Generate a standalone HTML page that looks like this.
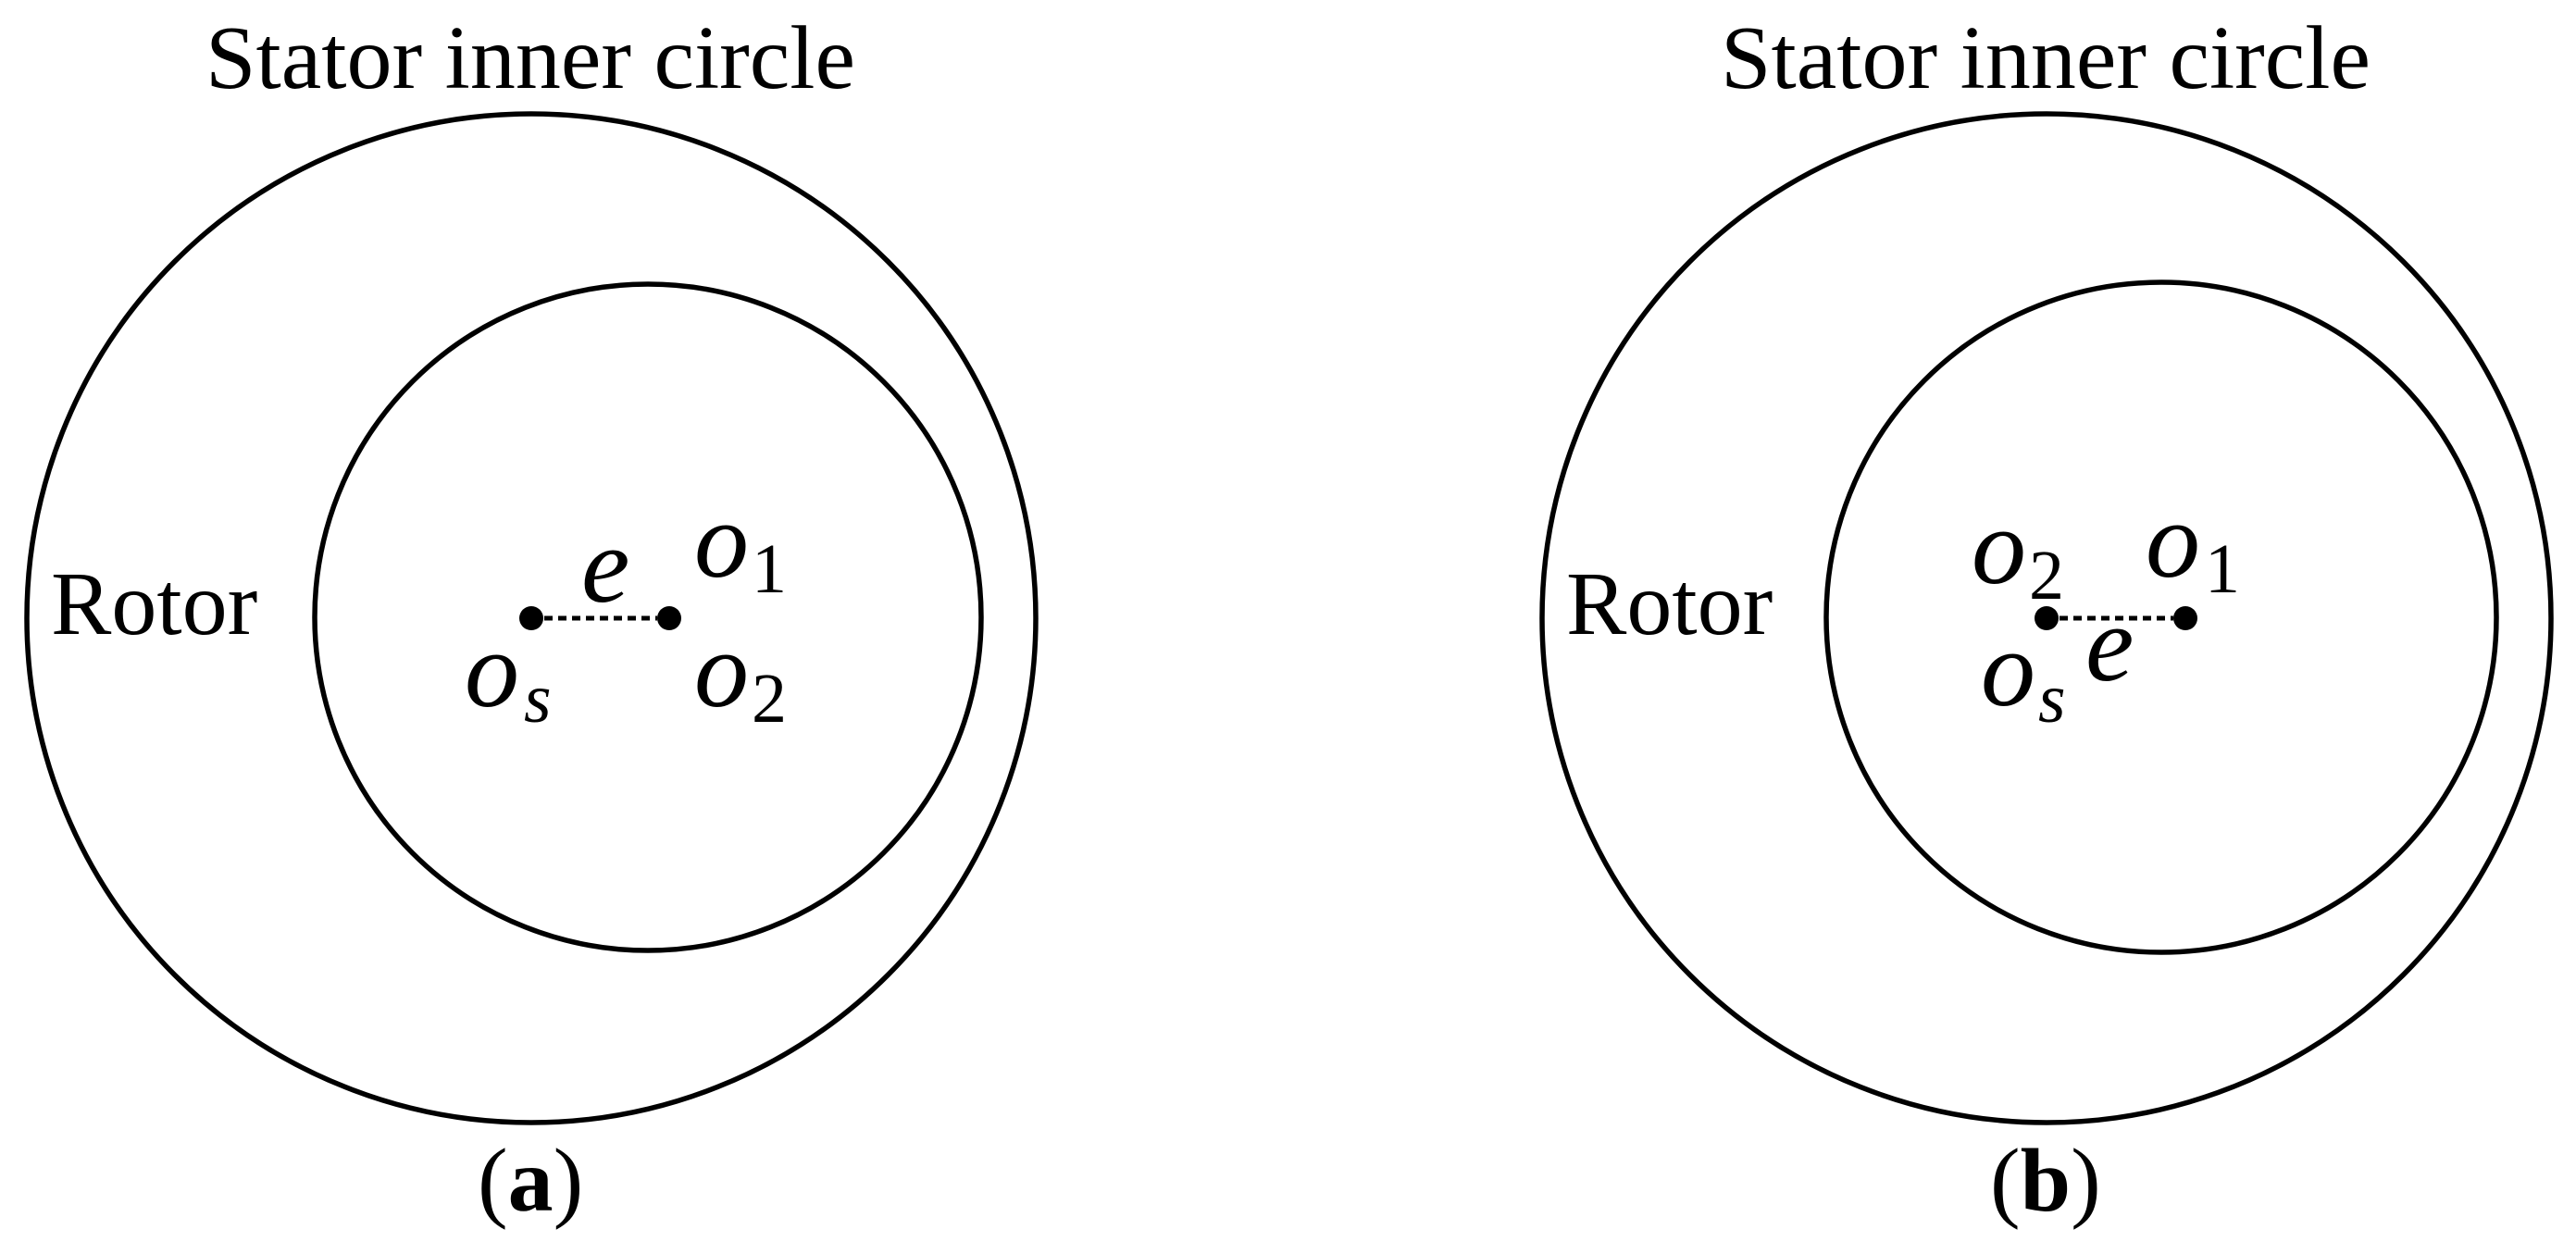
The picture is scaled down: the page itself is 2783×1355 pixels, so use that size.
<!DOCTYPE html>
<html><head><meta charset="utf-8"><style>
html,body{margin:0;padding:0;background:#fff;}
svg{display:block;}
text{font-family:"Liberation Serif",serif;fill:#000;}
.m{font-style:italic;font-size:118px;}
.sub{font-size:76px;}
.subi{font-size:76px;font-style:italic;}
.lbl{font-size:98px;}
</style></head><body>
<svg width="2783" height="1355" viewBox="0 0 2783 1355" xmlns="http://www.w3.org/2000/svg">
<g fill="none" stroke="#000" stroke-width="5.5">
<circle cx="574" cy="668" r="545"/>
<circle cx="700" cy="667" r="360"/>
<circle cx="2211" cy="668" r="545"/>
<circle cx="2335" cy="667" r="362"/>
</g>
<g stroke="#000" stroke-width="5" stroke-dasharray="9,6">
<line x1="588" y1="668" x2="710" y2="668"/>
<line x1="2225" y1="668" x2="2348" y2="668"/>
</g>
<g fill="#000">
<circle cx="574" cy="668" r="13"/>
<circle cx="723" cy="668" r="13"/>
<circle cx="2211" cy="668" r="13"/>
<circle cx="2361" cy="668" r="13"/>
</g>
<!-- panel a -->
<text class="lbl" x="222" y="95">Stator inner circle</text>
<text class="lbl" x="55" y="685">Rotor</text>
<text class="lbl" x="516" y="1308">(<tspan font-weight="bold">a</tspan>)</text>
<text class="m" x="628" y="650">e</text>
<text class="m" x="750" y="623">o</text><text class="sub" x="812" y="640">1</text>
<text class="m" x="502" y="763">o</text><text class="subi" x="566" y="780">s</text>
<text class="m" x="750" y="763">o</text><text class="sub" x="812" y="780">2</text>
<!-- panel b -->
<text class="lbl" x="1859" y="95">Stator inner circle</text>
<text class="lbl" x="1692" y="685">Rotor</text>
<text class="lbl" x="2150" y="1308">(<tspan font-weight="bold">b</tspan>)</text>
<text class="m" x="2130" y="630">o</text><text class="sub" x="2192" y="647">2</text>
<text class="m" x="2318" y="623">o</text><text class="sub" x="2382" y="640">1</text>
<text class="m" x="2253" y="735">e</text>
<text class="m" x="2140" y="762">o</text><text class="subi" x="2202" y="780">s</text>
</svg>
</body></html>
